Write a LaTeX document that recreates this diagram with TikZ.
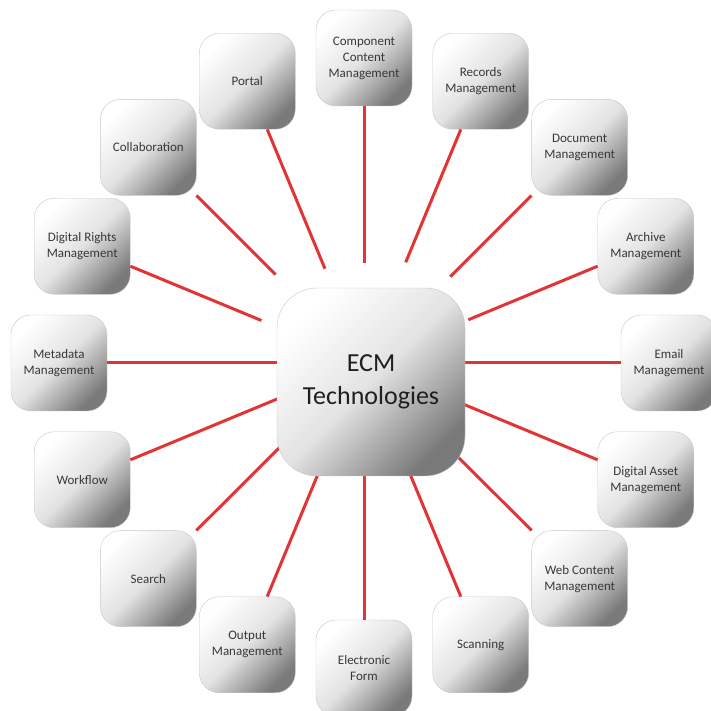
\documentclass[tikz,border=0pt]{standalone}
\usepackage{fontspec}
\setmainfont{Carlito}
\usetikzlibrary{calc}

\begin{document}
\begin{tikzpicture}[x=1pt,y=1pt]
  \tikzstyle{tech}=[rectangle,rounded corners=20pt,minimum size=96pt,draw=black!22,
    top color=white,bottom color=black!52,middle color=black!11,shading angle=45,
    text=black!78,align=center,inner sep=2pt,font=\fontsize{13}{16}\selectfont]
  \tikzstyle{hub}=[tech,rounded corners=40pt,minimum size=188pt,text=black!88,
    font=\fontsize{26}{33}\selectfont]
  \tikzstyle{link}=[line width=3pt,draw={rgb,255:red,226;green,52;blue,52}]
  \useasboundingbox (0,0) rectangle (710,711);
  \coordinate (ring) at (364,348);
  % satellites: angle/name/text/inner radius of the connector
  \foreach \a/\n/\t/\r in {90/comp/{Component\\Content\\Management}/100,
      67.5/rec/{Records\\Management}/109, 45/doc/{Document\\Management}/122,
      22.5/arch/{Archive\\Management}/113, 0/email/{Email\\Management}/0,
      -22.5/dam/{Digital Asset\\Management}/0, -45/wcm/{Web Content\\Management}/0,
      -67.5/scan/{Scanning}/0, -90/eform/{Electronic\\Form}/0,
      -112.5/output/{Output\\Management}/0, -135/search/{Search}/0,
      -157.5/wflow/{Workflow}/0, 180/meta/{Metadata\\Management}/0,
      157.5/drm/{Digital Rights\\Management}/111, 135/collab/{Collaboration}/125,
      112.5/portal/{Portal}/102}{
    \node[tech] (\n) at ($(ring)+(\a:305)$) {\t};
    \coordinate (\n-in) at ($(ring)+(\a:\r)$);
    \draw[link] (\n) -- (\n-in);
  }
  \node[hub] (ecm) at (371,329) {ECM\\Technologies};
\end{tikzpicture}
\end{document}
